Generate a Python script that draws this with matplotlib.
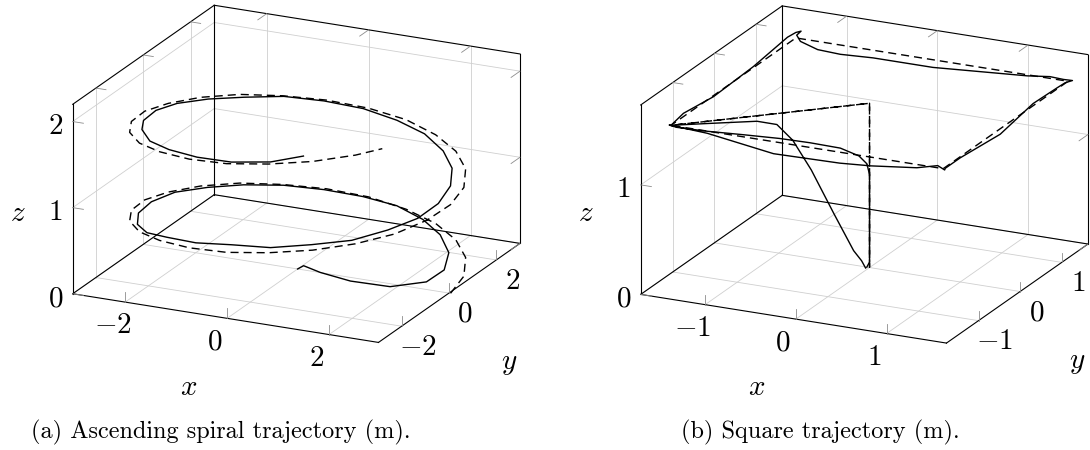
import numpy as np
import matplotlib
matplotlib.use('Agg')
import matplotlib.pyplot as plt
from matplotlib.transforms import IdentityTransform

plt.rcParams['mathtext.fontset'] = 'cm'

# ---- (a) ascending spiral: reference (dashed) ----
spiral_ref_x = [3.00, 2.90, 2.60, 2.12, 1.50, 0.78, 0.00, -0.78, -1.50, -2.12, -2.60, -2.90,
                -3.00, -2.90, -2.60, -2.12, -1.50, -0.78, 0.00, 0.78, 1.50, 2.12, 2.60, 2.90,
                3.00, 2.90, 2.60, 2.12, 1.50, 0.78, 0.00, -0.78, -1.50, -2.12, -2.60, -2.90,
                -3.00, -2.90, -2.60, -2.12, -1.50, -0.78, 0.00, 0.78, 1.50, 2.12, 2.46]
spiral_ref_y = [0.00, 0.78, 1.50, 2.12, 2.60, 2.90, 3.00, 2.90, 2.60, 2.12, 1.50, 0.78,
                0.00, -0.78, -1.50, -2.12, -2.60, -2.90, -3.00, -2.90, -2.60, -2.12, -1.50, -0.78,
                0.00, 0.78, 1.50, 2.12, 2.60, 2.90, 3.00, 2.90, 2.60, 2.12, 1.50, 0.78,
                0.00, -0.78, -1.50, -2.12, -2.60, -2.90, -3.00, -2.90, -2.60, -2.12, -1.72]
spiral_ref_z = [0.00, 0.04, 0.09, 0.13, 0.17, 0.21, 0.26, 0.30, 0.34, 0.39, 0.43, 0.47,
                0.52, 0.56, 0.60, 0.64, 0.69, 0.73, 0.77, 0.82, 0.86, 0.90, 0.94, 0.99,
                1.03, 1.07, 1.12, 1.16, 1.20, 1.25, 1.29, 1.33, 1.37, 1.42, 1.46, 1.50,
                1.55, 1.59, 1.63, 1.67, 1.72, 1.76, 1.80, 1.85, 1.89, 1.93, 1.96]

# ---- (a) ascending spiral: flown trajectory (solid) ----
spiral_x = [0.00, 0.08, 0.50, 1.20, 2.00, 2.55, 2.62, 2.34, 1.91, 1.36, 0.71, 0.00,
            -0.72, -1.39, -1.98, -2.42, -2.75, -2.87, -2.78, -2.48, -2.02, -1.42, -0.73, 0.00,
            0.73, 1.40, 1.98, 2.42, 2.69, 2.76, 2.67, 2.39, 1.95, 1.38, 0.71, 0.00,
            -0.72, -1.39, -1.97, -2.40, -2.70, -2.78, -2.69, -2.41, -1.98, -1.40, -0.72, 0.00,
            0.72, 1.27]
spiral_y = [0.00, 0.08, -0.12, -0.35, -0.40, -0.05, 0.55, 1.35, 1.91, 2.36, 2.66, 2.76,
            2.67, 2.40, 1.98, 1.40, 0.74, 0.00, -0.74, -1.43, -2.02, -2.47, -2.73, -2.80,
            -2.72, -2.42, -1.98, -1.40, -0.72, 0.00, 0.71, 1.38, 1.95, 2.39, 2.67, 2.77,
            2.67, 2.41, 1.97, 1.39, 0.72, 0.00, -0.72, -1.39, -1.98, -2.42, -2.70, -2.80,
            -2.70, -2.49]
spiral_z = [0.00, 0.03, 0.03, 0.04, 0.06, 0.10, 0.13, 0.15, 0.21, 0.25, 0.29, 0.31,
            0.34, 0.38, 0.41, 0.45, 0.49, 0.51, 0.53, 0.56, 0.62, 0.71, 0.76, 0.82,
            0.84, 0.88, 0.90, 0.95, 0.98, 1.02, 1.08, 1.13, 1.18, 1.24, 1.28, 1.33,
            1.37, 1.41, 1.43, 1.48, 1.53, 1.58, 1.61, 1.66, 1.68, 1.72, 1.75, 1.78,
            1.83, 1.91]

# ---- (b) square: reference (dashed) ----
square_ref_x = [0.0, 0.0, -1.5, 1.5, 1.5, -1.5, -1.5, 0.0, 0.0]
square_ref_y = [0.0, 0.0, -1.5, -1.5, 1.5, 1.5, -1.5, 0.0, 0.0]
square_ref_z = [0.0, 1.5, 1.5, 1.5, 1.5, 1.5, 1.5, 1.5, 0.0]

# ---- (b) square: flown trajectory (solid) ----
square_x = [-0.03, 0.00, 0.00, 0.00, -0.02, -0.08, -0.22, -0.45, -0.68, -0.95, -1.23, -1.45, -1.52,
            -1.10, -0.37, 0.36, 0.70, 1.21, 1.44, 1.53, 1.50,
            1.50, 1.50, 1.50, 1.50, 1.50, 1.53, 1.45,
            1.30, 1.05, 0.01, -0.65, -1.01, -1.26, -1.45, -1.50, -1.47, -1.50,
            -1.50, -1.50, -1.50, -1.50, -1.50,
            -1.23, -0.85, -0.70, -0.58, -0.44, -0.27, -0.12, -0.06, -0.03]
square_y = [0.00, 0.00, 0.00, 0.00, -0.02, -0.08, -0.22, -0.45, -0.68, -0.95, -1.23, -1.47, -1.50,
            -1.50, -1.50, -1.50, -1.50, -1.50, -1.50, -1.53, -1.45,
            -1.09, -0.13, 0.66, 1.24, 1.43, 1.54, 1.50,
            1.50, 1.50, 1.50, 1.50, 1.50, 1.50, 1.50, 1.52, 1.56, 1.50,
            1.30, 0.48, -0.48, -1.20, -1.50,
            -1.23, -0.85, -0.70, -0.58, -0.44, -0.27, -0.12, -0.06, -0.03]
square_z = [0.00, 0.05, 0.45, 0.85, 0.95, 1.03, 1.12, 1.20, 1.27, 1.34, 1.41, 1.48, 1.50,
            1.48, 1.39, 1.40, 1.42, 1.47, 1.52, 1.50, 1.49,
            1.49, 1.45, 1.52, 1.51, 1.505, 1.50, 1.51,
            1.516, 1.49, 1.43, 1.43, 1.415, 1.425, 1.475, 1.52, 1.55, 1.55,
            1.56, 1.51, 1.49, 1.53, 1.50,
            1.48, 1.45, 1.40, 1.24, 0.95, 0.53, 0.17, 0.07, 0.00]

spiral_lims = ((-3.03, 2.97), (-2.98, 3.0), (0.0, 2.2))
spiral_ticks = ([-2, 0, 2], [-2, 0, 2], [0, 1, 2])
square_lims = ((-1.71, 1.66), (-1.77, 1.63), (0.0, 1.73))
square_ticks = ([-1, 0, 1], [-1, 0, 1], [0, 1])

DASH = (0, (5.8, 3.6))
TICK_FS = 21


def seg(ax, p, q, **kw):
    ax.plot(*zip(p, q), **kw)


def setup_axes(ax, lims, ticks):
    (x0, x1), (y0, y1), (z0, z1) = lims
    xt, yt, zt = ticks
    ax.set_proj_type('ortho')
    ax.view_init(elev=19.5, azim=-64.5)
    ax.set_box_aspect((338, 328, 200.5))
    ax.set_facecolor('none')
    ax.grid(False)
    ax.set_xticks([])
    ax.set_yticks([])
    ax.set_zticks([])
    for axis in (ax.xaxis, ax.yaxis, ax.zaxis):
        axis.set_pane_color((1, 1, 1, 0))
        axis.pane.set_edgecolor('none')
        axis.line.set_visible(False)

    # grid on the three back faces
    gk = dict(color='#cfcfcf', lw=0.6, zorder=1)
    for t in xt:
        seg(ax, (t, y0, z0), (t, y1, z0), **gk)
        seg(ax, (t, y1, z0), (t, y1, z1), **gk)
    for t in yt:
        seg(ax, (x0, t, z0), (x1, t, z0), **gk)
        seg(ax, (x0, t, z0), (x0, t, z1), **gk)
    for t in zt:
        seg(ax, (x0, y0, t), (x0, y1, t), **gk)
        seg(ax, (x0, y1, t), (x1, y1, t), **gk)

    # box outline
    edges = [((x0, y0, z0), (x1, y0, z0)), ((x1, y0, z0), (x1, y1, z0)),
             ((x1, y1, z0), (x0, y1, z0)), ((x0, y1, z0), (x0, y0, z0)),
             ((x0, y0, z0), (x0, y0, z1)), ((x0, y0, z1), (x0, y1, z1)),
             ((x0, y1, z1), (x0, y1, z0)), ((x0, y1, z1), (x1, y1, z1)),
             ((x1, y1, z1), (x1, y1, z0))]
    for p, q in edges:
        seg(ax, p, q, color='black', lw=0.8, zorder=2)

    # short tick marks on front and far edges; label anchors for the front ones
    xr, yr, zr = x1 - x0, y1 - y0, z1 - z0
    kw = dict(color='0.55', lw=0.6, zorder=2)
    labels = []
    for t in xt:
        seg(ax, (t, y0, z0), (t, y0, z0 + 0.052 * zr), **kw)
        seg(ax, (t, y1, z1), (t, y1 - 0.063 * yr, z1), **kw)
        labels.append((t, y0 - 0.09 * yr, z0 - 0.076 * zr, t))
    for t in yt:
        seg(ax, (x1, t, z0), (x1, t, z0 + 0.052 * zr), **kw)
        seg(ax, (x0, t, z1), (x0 + 0.033 * xr, t, z1), **kw)
        labels.append((x1 + 0.053 * xr, t, z0 - 0.095 * zr, t))
    for t in zt:
        seg(ax, (x0, y0, t), (x0 + 0.035 * xr, y0, t), **kw)
        seg(ax, (x1, y1, t), (x1, y1 - 0.063 * yr, t), **kw)
        labels.append((x0 - 0.056 * xr, y0, t - 0.038 * zr, t))

    ax.set_xlim(x0, x1)
    ax.set_ylim(y0, y1)
    ax.set_zlim(z0, z1)
    return labels


def project(ax, pts):
    """3D data points -> display pixels, using the axes' own projection."""
    pts = np.column_stack([np.asarray(pts, float), np.ones(len(pts))])
    v = ax.M @ pts.T
    return ax.transData.transform(np.column_stack([v[0] / v[3], v[1] / v[3]]))


def fit_box(ax, lims, left, right, top, bottom):
    """Scale and move the axes so the projected box spans the given pixels."""
    fig = ax.figure
    fig.canvas.draw()
    cx, cy, cz = np.meshgrid(*lims)
    disp = project(ax, np.column_stack([cx.ravel(), cy.ravel(), cz.ravel()]))
    bb = ax.bbox
    u = (disp - [bb.x0, bb.y0]) / bb.width
    W, H = fig.bbox.width, fig.bbox.height
    size = (right - left) / (u[:, 0].max() - u[:, 0].min())
    ucx = (u[:, 0].max() + u[:, 0].min()) / 2
    ucy = (u[:, 1].max() + u[:, 1].min()) / 2
    px = (left + right) / 2 - size * ucx
    py = H - (top + bottom) / 2 - size * ucy
    ax.set_position([px / W, py / H, size / W, size / H])


def draw_tick_labels(ax, labels):
    disp = project(ax, [lab[:3] for lab in labels])
    for (px, py), lab in zip(disp, labels):
        ax.figure.text(px, py, f'${lab[3]}$', transform=IdentityTransform(),
                       ha='center', va='center', fontsize=TICK_FS)


fig = plt.figure(figsize=(10.9, 4.5), dpi=100)
fig.patch.set_facecolor('white')

ax1 = fig.add_axes([0.0, 0.0, 450 / 1090, 1.0], projection='3d')
labels1 = setup_axes(ax1, spiral_lims, spiral_ticks)
ax1.plot(spiral_ref_x, spiral_ref_y, spiral_ref_z, color='black', lw=1.0, linestyle=DASH, zorder=3)
ax1.plot(spiral_x, spiral_y, spiral_z, color='black', lw=1.0, zorder=4)

ax2 = fig.add_axes([560 / 1090, 0.0, 450 / 1090, 1.0], projection='3d')
labels2 = setup_axes(ax2, square_lims, square_ticks)
ax2.plot(square_ref_x, square_ref_y, square_ref_z, color='black', lw=1.0, linestyle=DASH, zorder=3)
ax2.plot(square_x, square_y, square_z, color='black', lw=1.0, zorder=4)

fit_box(ax1, spiral_lims, 72.7, 520, 7, 340.7)
fit_box(ax2, square_lims, 640.7, 1088, 7.3, 341.7)
draw_tick_labels(ax1, labels1)
draw_tick_labels(ax2, labels2)


def px_text(x, y, s, **kw):
    fig.text(x / 1090, 1 - y / 450, s, ha='center', va='center', **kw)


# axis labels
px_text(18, 213, '$z$', fontsize=TICK_FS)
px_text(189, 387, '$x$', fontsize=TICK_FS)
px_text(509, 363, '$y$', fontsize=TICK_FS)
px_text(586, 213, '$z$', fontsize=TICK_FS)
px_text(757, 387, '$x$', fontsize=TICK_FS)
px_text(1077, 362, '$y$', fontsize=TICK_FS)

# captions
px_text(221, 432, '(a) Ascending spiral trajectory (m).', fontsize=17.5, fontfamily='cmr10')
px_text(820, 432, '(b) Square trajectory (m).', fontsize=17.5, fontfamily='cmr10')

fig.savefig('out.png', dpi=100)
